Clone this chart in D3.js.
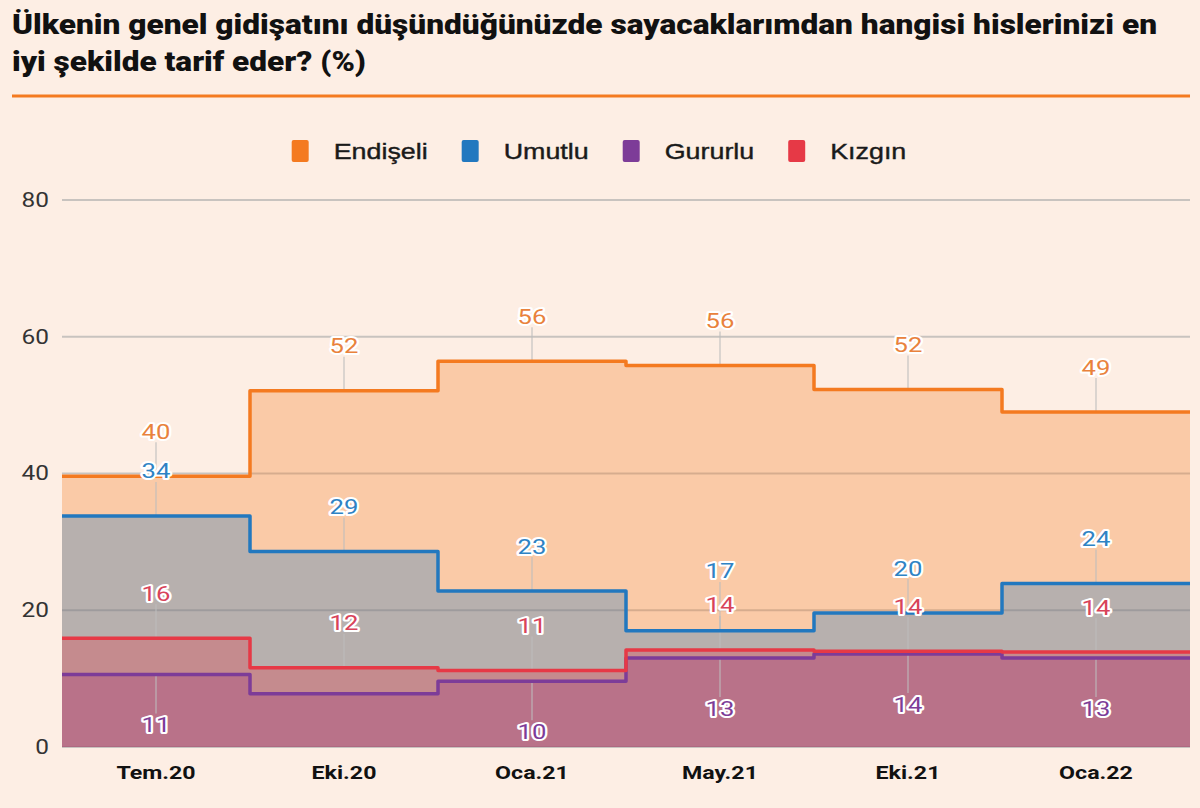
<!DOCTYPE html>
<html>
<head>
<meta charset="utf-8">
<script src="https://cdn.jsdelivr.net/npm/d3@7"></script>
<style>
    body { margin: 0; background: #fdeee4; }
    svg { display: block; }
</style>
</head>
<body>
<svg id="chart"></svg>
<script>
// Ülkenin genel gidişatı - duygular (%)

const donemler = ["Tem.20", "Eki.20", "Oca.21", "May.21", "Eki.21", "Oca.22"]

const endiseli = [39.6, 52.1, 56.4, 55.8, 52.3, 49.0]
const umutlu = [33.8, 28.6, 22.8, 17.0, 19.6, 23.9]
const kizgin = [15.9, 11.6, 11.2, 14.2, 14.0, 13.9]
const gururlu = [10.6, 7.8, 9.6, 13.0, 13.6, 13.0]

const legendOrder = ["Endişeli", "Umutlu", "Gururlu", "Kızgın"]
const yTicks = [0, 20, 40, 60, 80]

const titleLines = [
    "Ülkenin genel gidişatını düşündüğünüzde sayacaklarımdan hangisi hislerinizi en",
    "iyi şekilde tarif eder? (%)"
]

// seriler
const series = [
    { name: "Endişeli", values: endiseli, color: "#f47a20", label: "#e9823c", below: false },
    { name: "Umutlu", values: umutlu, color: "#2278bf", label: "#2f83c4", below: false },
    { name: "Gururlu", values: gururlu, color: "#7d3c98", label: "#7d3c98", below: true },
    { name: "Kızgın", values: kizgin, color: "#e63946", label: "#d8435a", below: false }
]

const svgWidth = 1200
const svgHeight = 808
const plotLeft = 62, plotRight = 1190, plotTop = 200, plotBottom = 747
const stretchX = 1.22 // referanstaki yazılar yatayda biraz geniş

const svg = d3.select("#chart")
    .attr("width", svgWidth)
    .attr("height", svgHeight)

svg.append("rect")
    .attr("width", svgWidth)
    .attr("height", svgHeight)
    .attr("fill", "#fdeee4")

function stretch(sel) {
    sel.each(function () {
        var w = this.getComputedTextLength()
        d3.select(this)
            .attr("textLength", w * stretchX)
            .attr("lengthAdjust", "spacingAndGlyphs")
    })
}

// başlık
const title = svg.append("g").attr("font-family", "Roboto, sans-serif")
    .attr("font-weight", 900)
    .attr("font-size", 27)
    .attr("fill", "#111")

title.selectAll("text")
    .data(titleLines)
    .enter()
    .append("text")
    .attr("x", 12)
    .attr("y", (d, i) => 34 + i * 37)
    .text(d => d)

// satırları referans genişliğine sığdır
const tw = [1145, 354]
title.selectAll("text")
    .attr("textLength", (d, i) => tw[i])
    .attr("lengthAdjust", "spacingAndGlyphs")

svg.append("line")
    .attr("x1", 12).attr("x2", 1190)
    .attr("y1", 96).attr("y2", 96)
    .attr("stroke", "#f47a20")
    .attr("stroke-width", 3)

// ölçekler
const x = d3.scaleBand().domain(donemler).range([plotLeft, plotRight])
const y = d3.scaleLinear().domain([0, 80]).range([plotBottom, plotTop])

// ızgara
svg.append("g")
    .selectAll("line")
    .data(yTicks)
    .enter()
    .append("line")
    .attr("x1", plotLeft).attr("x2", plotRight)
    .attr("y1", d => y(d)).attr("y2", d => y(d))
    .attr("stroke", "#c8c3bf")
    .attr("stroke-width", 2)

const yAxis = svg.append("g")
    .attr("transform", `translate(${plotLeft},0)`)
    .call(d3.axisLeft(y).tickValues(yTicks).tickSize(0).tickPadding(13))

yAxis.select(".domain").remove()
yAxis.selectAll("text")
    .attr("font-family", "Roboto, sans-serif")
    .attr("font-size", 20)
    .attr("fill", "#333")
    .call(stretch)

const xAxis = svg.append("g")
    .attr("transform", `translate(0,${plotBottom})`)
    .call(d3.axisBottom(x).tickSize(0).tickPadding(19))

xAxis.select(".domain").remove()
xAxis.selectAll("text")
    .attr("font-family", "Roboto, sans-serif")
    .attr("font-weight", 700)
    .attr("font-size", 19)
    .attr("fill", "#111")
    .call(stretch)

function stepPoints(values) {
    var pts = values.map((v, i) => [x(donemler[i]), y(v)])
    pts.push([plotRight, y(values[values.length - 1])])
    return pts
}

const area = d3.area()
    .x(d => d[0])
    .y0(y(0))
    .y1(d => d[1])
    .curve(d3.curveStepAfter)

const line = d3.line()
    .x(d => d[0])
    .y(d => d[1])
    .curve(d3.curveStepAfter)

svg.append("g")
    .selectAll("path")
    .data(series)
    .enter()
    .append("path")
    .attr("d", d => area(stepPoints(d.values)))
    .attr("fill", d => d.color)
    .attr("fill-opacity", 0.31)

// ince gösterge çizgileri ve etiketler
const labels = []
donemler.forEach((donem, i) => {
    var cx = x(donem) + x.bandwidth() / 2
    var above = series.filter(s => !s.below)
        .map(s => ({ s: s, v: s.values[i], py: y(s.values[i]) }))
        .sort((a, b) => a.v - b.v)
    var prev = null
    above.forEach(d => {
        d.ly = d.py - 45
        if (prev != null && d.ly > prev - 34) d.ly = prev - 34
        prev = d.ly
        labels.push({ cx: cx, py: d.py, ly: d.ly, s: d.s, v: d.v, up: true })
    })
    series.filter(s => s.below).forEach(s => {
        var py = y(s.values[i])
        var ly = py + 50
        if (ly < plotBottom - 10) labels.push({ cx: cx, py: py, ly: ly, s: s, v: s.values[i], up: false })
    })
})

svg.append("g")
    .selectAll("line")
    .data(labels)
    .enter()
    .append("line")
    .attr("x1", d => d.cx).attr("x2", d => d.cx)
    .attr("y1", d => d.py)
    .attr("y2", d => d.up ? d.ly + 11 : d.ly - 11)
    .attr("stroke", "#bdbdbd")
    .attr("stroke-opacity", 0.7)
    .attr("stroke-width", 1.5)

svg.append("g")
    .selectAll("path")
    .data(series)
    .enter()
    .append("path")
    .attr("d", d => line(stepPoints(d.values)))
    .attr("fill", "none")
    .attr("stroke", d => d.color)
    .attr("stroke-width", 3.5)
    .attr("stroke-linejoin", "round")

svg.append("g")
    .selectAll("text")
    .data(labels)
    .enter()
    .append("text")
    .attr("x", d => d.cx)
    .attr("y", d => d.ly)
    .attr("dy", "0.36em")
    .attr("text-anchor", "middle")
    .attr("font-family", "Roboto, sans-serif")
    .attr("font-size", 21)
    .attr("fill", d => d.s.label)
    .attr("stroke", "white")
    .attr("stroke-width", 4)
    .attr("stroke-linejoin", "round")
    .attr("paint-order", "stroke")
    .text(d => Math.round(d.v))
    .call(stretch)

// lejant
const legend = svg.append("g")
const items = legend.selectAll("g")
    .data(legendOrder.map(n => series.find(s => s.name == n)))
    .enter()
    .append("g")

items.append("rect")
    .attr("y", -11)
    .attr("width", 17)
    .attr("height", 22)
    .attr("rx", 2)
    .attr("fill", d => d.color)

items.append("text")
    .attr("x", 42)
    .attr("dy", "0.36em")
    .attr("font-family", "Liberation Sans, Arial, sans-serif")
    .attr("font-size", 22)
    .attr("fill", "#1a1a1a")
    .attr("stroke", "#1a1a1a")
    .attr("stroke-width", 0.4)
    .text(d => d.name)
    .call(stretch)

var lx = 0
items.each(function () {
    var w = 42 + d3.select(this).select("text").attr("textLength") * 1
    d3.select(this).attr("transform", `translate(${lx},151)`)
    lx += w + 34
})
legend.attr("transform", `translate(${599 - (lx - 34) / 2},0)`)
</script>
</body>
</html>
